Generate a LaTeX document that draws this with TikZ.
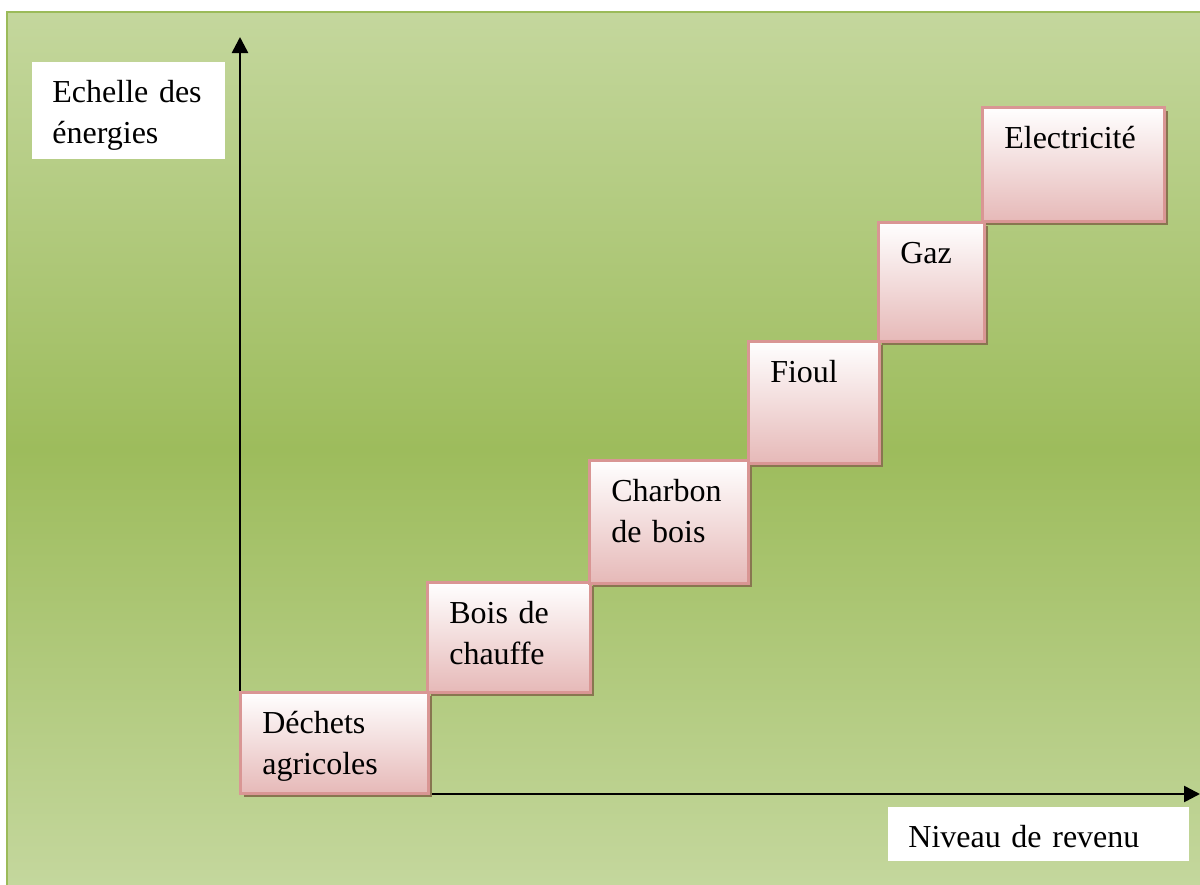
\documentclass[tikz,border=0pt]{standalone}
\usepackage{fontspec}
\setmainfont{Liberation Serif}
\usetikzlibrary{
    arrows.meta,
    shadows,
    positioning,
}
\definecolor{greenlight}{HTML}{C4D79D}
\definecolor{greenmid}{HTML}{9DBC5C}
\definecolor{greenborder}{HTML}{9BBB59}
\definecolor{pinkborder}{HTML}{D99694}
\definecolor{pinkfill}{HTML}{E6B9B8}
\definecolor{shadowbrown}{HTML}{887650}
\tikzset{
    stepbox/.style={
            anchor=north west,
            inner xsep=11pt,
            inner ysep=0pt,
            text height=20.5pt,
            align=left,
            draw=pinkborder,
            line width=1.3pt,
            top color=white,
            bottom color=pinkfill,
            drop shadow={
                    shadow xshift=1.8pt,
                    shadow yshift=-2pt,
                    fill=shadowbrown,
                    opacity=1,
                },
            font=\fontsize{16}{20.75}\selectfont,
        }
}
\tikzset{
    axislabel/.style={
            anchor=north west,
            inner xsep=10pt,
            inner ysep=0pt,
            text height=20pt,
            align=left,
            fill=white,
            font=\fontsize{16}{20.75}\selectfont,
        }
}
\tikzset{
    axisarrow/.style={
            -{Triangle[width=8pt,length=8pt]},
            line width=1.3pt,
        }
}

\begin{document}
\begin{tikzpicture}[x=0.5pt,y=-0.5pt]
    \useasboundingbox (0,0) rectangle (1200,884);

    % background
    \shade[
        top color=greenlight,
        bottom color=greenlight,
        middle color=greenmid,
    ] (7,12) rectangle (1202,886);
    \draw[
        greenborder,
        line width=1.2pt,
    ] (7,886) -- (7,12) -- (1202,12);

    % axes
    \coordinate (O) at (240,794);
    \coordinate (Y) at (240,37);
    \coordinate (X) at (1200,794);
    \draw[axisarrow] (O) -- (Y);
    \draw[axisarrow] (O) -- (X);

    % axis labels
    \node[
        axislabel,
        text width=76.5pt,
        text depth=28.5pt,
    ] (L-y) at (32,62) {Echelle des\\énergies};
    \node[
        axislabel,
        text width=130.5pt,
        text depth=7pt,
    ] (L-x) at (888,807) {Niveau de revenu};

    % steps
    \node[
        stepbox,
        text width=72pt,
        text depth=30pt,
    ] (S-1) at (239,691) {Déchets\\agricoles};
    \node[
        stepbox,
        text width=59.5pt,
        text depth=34.5pt,
    ] (S-2) at (426,581) {Bois de\\chauffe};
    \node[
        stepbox,
        text width=57.5pt,
        text depth=41pt,
    ] (S-3) at (588,459) {Charbon\\de bois};
    \node[
        stepbox,
        text width=43.5pt,
        text depth=40.5pt,
    ] (S-4) at (747,340) {Fioul};
    \node[
        stepbox,
        text width=31pt,
        text depth=39pt,
    ] (S-5) at (877,221) {Gaz};
    \node[
        stepbox,
        text width=69pt,
        text depth=36.5pt,
    ] (S-6) at (981,106) {Electricité};
\end{tikzpicture}
\end{document}
